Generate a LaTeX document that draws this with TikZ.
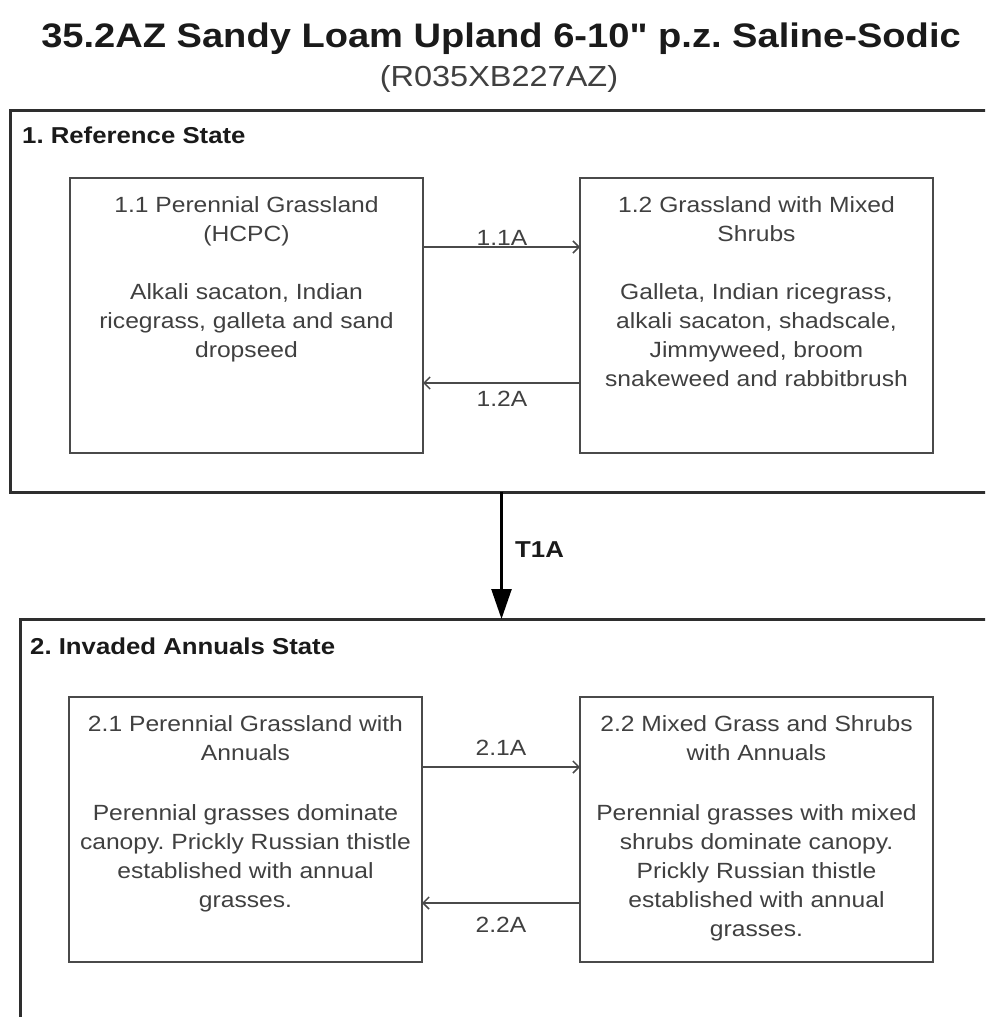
\documentclass[tikz,border=0pt]{standalone}
\usepackage{fontspec}
\setmainfont{Liberation Sans}[FakeStretch=1.12,Ligatures=TeXOff]
\usetikzlibrary{arrows.meta,calc}
\definecolor{outerline}{HTML}{2E2E2E}
\definecolor{boxline}{HTML}{4A4A4A}
\definecolor{boxtext}{HTML}{404040}
\definecolor{darktext}{HTML}{1A1A1A}
\frenchspacing
\begin{document}
\begin{tikzpicture}[x=1pt,y=-1pt,
  outerbox/.style={draw=outerline,line width=3pt,anchor=north west,outer sep=0pt,inner sep=0pt,minimum width=985pt},
  statebox/.style={draw=boxline,line width=2pt,anchor=north west,outer sep=0pt,inner sep=0pt,minimum width=353pt,minimum height=275pt},
  boxtxt/.style={anchor=north,inner sep=0pt,align=center,text=boxtext,font=\fontsize{22}{29}\selectfont},
  statelabel/.style={anchor=base west,inner sep=0pt,text=darktext,font=\fontsize{23}{27}\selectfont\bfseries},
  arrlabel/.style={anchor=base,inner sep=0pt,text=boxtext,font=\fontsize{22}{26}\selectfont},
  smallarr/.style={draw=boxline,line width=2pt,-{Straight Barb[length=6pt,width=12pt,line width=1.5pt]}},
  bigarr/.style={draw=black,line width=2.5pt,-{Triangle[length=30pt,width=20pt]}}
]
\useasboundingbox (0,0) rectangle (985,1017);
\clip (0,0) rectangle (985,1017);

% titles
\node[anchor=base,inner sep=0pt,text=darktext,font=\fontsize{34}{40}\selectfont\bfseries] (title) at (501,47) {35.2AZ Sandy Loam Upland 6-10" p.z. Saline-Sodic};
\node[anchor=base,inner sep=0pt,text=boxtext,font=\fontsize{29}{34}\selectfont] (subtitle) at (499,86) {(R035XB227AZ)};

% outer state boxes
\node[outerbox,minimum height=382pt] (o1) at (10,110) {};
\node[outerbox,minimum height=420pt] (o2) at (20,619) {};
\node[statelabel] (s1) at (22,143) {1. Reference State};
\node[statelabel] (s2) at (30,654) {2. Invaded Annuals State};

% community boxes
\node[statebox] (b11) at (70,178) {};
\node[statebox] (b12) at (580,178) {};
\node[statebox,minimum height=265pt] (b21) at (69,697) {};
\node[statebox,minimum height=265pt] (b22) at (580,697) {};

\node[boxtxt] (t11) at ([yshift=-18pt]b11.north) {1.1 Perennial Grassland\\(HCPC)\\[29pt]Alkali sacaton, Indian\\ricegrass, galleta and sand\\dropseed};
\node[boxtxt] (t12) at ([yshift=-18pt]b12.north) {1.2 Grassland with Mixed\\Shrubs\\[29pt]Galleta, Indian ricegrass,\\alkali sacaton, shadscale,\\Jimmyweed, broom\\snakeweed and rabbitbrush};
\node[boxtxt] (t21) at ([yshift=-18pt]b21.north) {2.1 Perennial Grassland with\\Annuals\\[31pt]Perennial grasses dominate\\canopy. Prickly Russian thistle\\established with annual\\grasses.};
\node[boxtxt] (t22) at ([yshift=-18pt]b22.north) {2.2 Mixed Grass and Shrubs\\with Annuals\\[31pt]Perennial grasses with mixed\\shrubs dominate canopy.\\Prickly Russian thistle\\established with annual\\grasses.};

% transitions within states
\draw[smallarr] ([yshift=68.5pt]b11.east) -- ([yshift=68.5pt]b12.west);
\draw[smallarr] ([yshift=-67.5pt]b12.west) -- ([yshift=-67.5pt]b11.east);
\draw[smallarr] ([yshift=62.5pt]b21.east) -- ([yshift=62.5pt]b22.west);
\draw[smallarr] ([yshift=-73.5pt]b22.west) -- ([yshift=-73.5pt]b21.east);

\node[arrlabel] (l11) at (502,245) {1.1A};
\node[arrlabel] (l12) at (502,406) {1.2A};
\node[arrlabel] (l21) at (501,755) {2.1A};
\node[arrlabel] (l22) at (501,932) {2.2A};

% transition between states
\coordinate (mid) at ($(b11.east)!0.5!(b12.west)$);
\draw[bigarr] (o1.south -| mid) -- (o2.north -| mid);
\node[anchor=west,inner sep=0pt,text=darktext,font=\fontsize{23}{27}\selectfont\bfseries] (lt1) at (515,550) {T1A};
\end{tikzpicture}
\end{document}
